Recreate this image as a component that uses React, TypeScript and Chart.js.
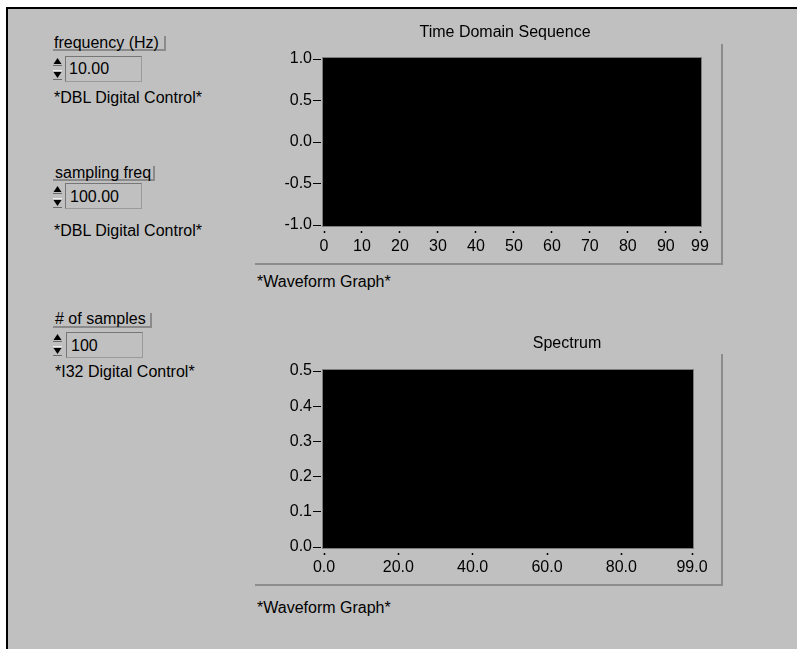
import React, { useEffect, useRef } from "react";
import { Chart, registerables } from "chart.js";

Chart.register(...registerables);

const FONT = '"Liberation Sans", Arial, Helvetica, sans-serif';

// ---------- data ----------
const timeTitle = "Time Domain Sequence";
const spectrumTitle = "Spectrum";
const timeSeries: number[] = []; // graph is empty (no plot drawn)
const spectrumSeries: number[] = []; // graph is empty (no plot drawn)
const timeXTicks = [0, 10, 20, 30, 40, 50, 60, 70, 80, 90, 99];
const timeYTicks = [-1, -0.5, 0, 0.5, 1];
const spectrumXTicks = [0, 20, 40, 60, 80, 99];
const spectrumYTicks = [0, 0.1, 0.2, 0.3, 0.4, 0.5];
const controlLabels = ["frequency (Hz)", "sampling freq", "# of samples"];
const controlValues = ["10.00", "100.00", "100"];
const controlCaptions = ["*DBL Digital Control*", "*DBL Digital Control*", "*I32 Digital Control*"];
const graphCaption = "*Waveform Graph*";

// ---------- chart plumbing ----------
const plotAreaPlugin = {
  id: "plotArea",
  beforeDraw(chart: any) {
    const { ctx, chartArea: a } = chart;
    ctx.save();
    ctx.fillStyle = "#000";
    ctx.fillRect(a.left - 1, a.top - 1, a.right - a.left + 2, a.bottom - a.top + 2);
    ctx.strokeStyle = "#7c7c7c";
    ctx.lineWidth = 1;
    ctx.strokeRect(a.left - 1.5, a.top - 1.5, a.right - a.left + 3, a.bottom - a.top + 3);
    ctx.restore();
  },
};

type GraphSpec = {
  x: number;
  y: number;
  w: number;
  h: number;
  title: string;
  series: number[];
  xTicks: number[];
  yTicks: number[];
  xMax: number;
  yMin: number;
  yMax: number;
  xDecimals: number;
  titleTop: number;
  titleBottom: number;
  yWidth: number;
  rightWidth: number;
  xHeight: number;
  xPad: number;
  dotGap: number;
};

function buildConfig(s: GraphSpec): any {
  const tickFont = { family: FONT, size: 16, lineHeight: 1.25 };
  return {
    type: "line",
    data: {
      datasets: [
        {
          data: s.series.map((v, i) => ({ x: i, y: v })),
          borderColor: "#ffffff",
          borderWidth: 1,
          pointRadius: 0,
        },
      ],
    },
    options: {
      animation: false,
      responsive: false,
      maintainAspectRatio: false,
      events: [],
      layout: { padding: 0 },
      plugins: {
        legend: { display: false },
        tooltip: { enabled: false },
        title: {
          display: true,
          text: s.title,
          color: "#000",
          font: { family: FONT, size: 16, weight: "normal", lineHeight: 1.25 },
          padding: { top: s.titleTop, bottom: s.titleBottom },
        },
      },
      scales: {
        x: {
          type: "linear",
          position: "bottom",
          min: 0,
          max: s.xMax,
          afterBuildTicks: (a: any) => {
            a.ticks = s.xTicks.map((value) => ({ value }));
          },
          afterFit: (a: any) => {
            a.height = s.xHeight;
          },
          grid: {
            display: true,
            drawOnChartArea: false,
            drawTicks: true,
            tickLength: 8,
            tickColor: "#000",
            tickWidth: 1.5,
            tickBorderDash: [0, s.dotGap, 2, 40],
          },
          border: { display: false },
          ticks: {
            color: "#000",
            font: tickFont,
            padding: s.xPad,
            maxRotation: 0,
            minRotation: 0,
            autoSkip: false,
            callback: (v: any) => Number(v).toFixed(s.xDecimals),
          },
        },
        y: {
          type: "linear",
          position: "left",
          min: s.yMin,
          max: s.yMax,
          afterBuildTicks: (a: any) => {
            a.ticks = s.yTicks.map((value) => ({ value }));
          },
          afterFit: (a: any) => {
            a.width = s.yWidth;
          },
          grid: {
            display: true,
            drawOnChartArea: false,
            drawTicks: true,
            tickLength: 11,
            tickColor: "#000",
            tickWidth: 1,
            tickBorderDash: [8, 40],
          },
          border: { display: false },
          ticks: {
            color: "#000",
            font: tickFont,
            padding: 1,
            autoSkip: false,
            callback: (v: any) => Number(v).toFixed(1),
          },
        },
        y2: {
          type: "linear",
          position: "right",
          display: true,
          min: 0,
          max: 1,
          grid: { display: false, drawTicks: false },
          border: { display: false },
          ticks: { display: false },
          afterFit: (a: any) => {
            a.width = s.rightWidth;
          },
        },
      },
    },
    plugins: [plotAreaPlugin],
  };
}

function Graph({ spec }: { spec: GraphSpec }) {
  const ref = useRef<HTMLCanvasElement>(null);
  useEffect(() => {
    if (!ref.current) return;
    const chart = new Chart(ref.current, buildConfig(spec));
    return () => chart.destroy();
  }, []);
  return (
    <canvas
      ref={ref}
      width={spec.w}
      height={spec.h}
      style={{ position: "absolute", left: spec.x, top: spec.y, width: spec.w, height: spec.h }}
    />
  );
}

// chart area: x 324..700, y 59..225 ; title centred at x 505
const timeSpec: GraphSpec = {
  x: 279,
  y: 12,
  w: 452,
  h: 250,
  title: timeTitle,
  series: timeSeries,
  xTicks: timeXTicks,
  yTicks: timeYTicks,
  xMax: 99,
  yMin: -1,
  yMax: 1,
  xDecimals: 0,
  titleTop: 11,
  titleBottom: 16,
  yWidth: 45,
  rightWidth: 31,
  xHeight: 37,
  xPad: 4,
  dotGap: 6,
};

// chart area: x 324..692, y 371..547 ; title centred at x 567
const spectrumSpec: GraphSpec = {
  x: 279,
  y: 322,
  w: 576,
  h: 265,
  title: spectrumTitle,
  series: spectrumSeries,
  xTicks: spectrumXTicks,
  yTicks: spectrumYTicks,
  xMax: 99,
  yMin: 0,
  yMax: 0.5,
  xDecimals: 1,
  titleTop: 12,
  titleBottom: 17,
  yWidth: 45,
  rightWidth: 163,
  xHeight: 40,
  xPad: 3,
  dotGap: 6,
};

// ---------- panel pieces ----------
const textStyle = (left: number, top: number): React.CSSProperties => ({
  position: "absolute",
  left,
  top,
  fontFamily: FONT,
  fontSize: 16,
  lineHeight: "18px",
  color: "#000",
  whiteSpace: "nowrap",
});

function Txt({ x, y, children }: { x: number; y: number; children: React.ReactNode }) {
  return <div style={textStyle(x, y)}>{children}</div>;
}

function Spinner({ x, y }: { x: number; y: number }) {
  return (
    <svg style={{ position: "absolute", left: x, top: y }} width={9} height={23} viewBox="0 0 9 23">
      <polygon points="4.5,1 8.5,7 0.5,7" fill="#000" />
      <rect x="0" y="8" width="9" height="1" fill="#6a6a6a" />
      <rect x="0" y="13" width="9" height="1" fill="#eeeeee" />
      <polygon points="0.5,15 8.5,15 4.5,21" fill="#000" />
      <rect x="0" y="22" width="9" height="1" fill="#6a6a6a" />
    </svg>
  );
}

function LabelFrame({ x, y, w }: { x: number; y: number; w: number }) {
  return (
    <div
      style={{
        position: "absolute",
        left: x,
        top: y,
        width: w,
        height: 13,
        borderRight: "2px solid #8a8a8a",
        borderBottom: "2px solid #8a8a8a",
      }}
    />
  );
}

function NumBox({ x, y }: { x: number; y: number }) {
  return (
    <div
      style={{
        position: "absolute",
        left: x,
        top: y,
        width: 75,
        height: 24,
        borderTop: "1px solid #767676",
        borderLeft: "1px solid #767676",
        borderRight: "1px solid #9a9a9a",
        borderBottom: "1px solid #9a9a9a",
      }}
    />
  );
}

function Line({ x, y, w, h }: { x: number; y: number; w: number; h: number }) {
  return <div style={{ position: "absolute", left: x, top: y, width: w, height: h, background: "#8c8c8c" }} />;
}

export default function App() {
  return (
    <div
      style={{
        position: "absolute",
        left: 0,
        top: 0,
        width: 797,
        height: 649,
        background: "#ffffff",
        overflow: "hidden",
      }}
    >
      <div
        style={{
          position: "absolute",
          left: 6,
          top: 7,
          right: 0,
          bottom: 0,
          background: "#c0c0c0",
          borderLeft: "2px solid #000",
          borderTop: "2px solid #000",
        }}
      />

      {/* control 1 */}
      <LabelFrame x={53} y={36} w={111} />
      <Txt x={54} y={34}>{controlLabels[0]}</Txt>
      <Spinner x={53} y={57} />
      <NumBox x={65} y={56} />
      <Txt x={69} y={60}>{controlValues[0]}</Txt>
      <Txt x={54} y={89}>{controlCaptions[0]}</Txt>

      {/* control 2 */}
      <LabelFrame x={53} y={166} w={100} />
      <Txt x={55} y={164}>{controlLabels[1]}</Txt>
      <Spinner x={53} y={185} />
      <NumBox x={65} y={183} />
      <Txt x={70} y={188}>{controlValues[1]}</Txt>
      <Txt x={54} y={222}>{controlCaptions[1]}</Txt>

      {/* control 3 */}
      <LabelFrame x={53} y={313} w={97} />
      <Txt x={55} y={310}>{controlLabels[2]}</Txt>
      <Spinner x={53} y={333} />
      <NumBox x={66} y={332} />
      <Txt x={71} y={337}>{controlValues[2]}</Txt>
      <Txt x={55} y={363}>{controlCaptions[2]}</Txt>

      {/* graph frames */}
      <Line x={721} y={44} w={2} h={221} />
      <Line x={255} y={263} w={468} h={2} />
      <Line x={721} y={354} w={2} h={232} />
      <Line x={255} y={584} w={468} h={2} />

      <Graph spec={timeSpec} />
      <Graph spec={spectrumSpec} />

      <Txt x={257} y={273}>{graphCaption}</Txt>
      <Txt x={257} y={599}>{graphCaption}</Txt>
    </div>
  );
}
